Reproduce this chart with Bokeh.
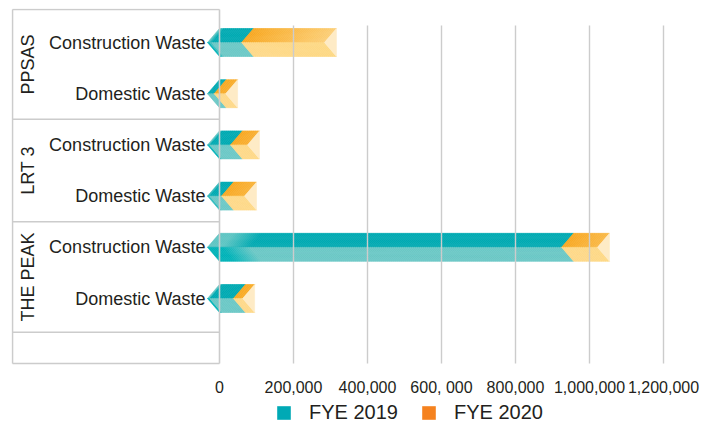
import numpy as np
from bokeh.plotting import figure
from bokeh.models import (Range1d, FixedTicker, Legend, LegendItem,
                          ColumnDataSource)
from bokeh.core.properties import value
from bokeh.embed import file_html
from bokeh.resources import INLINE

# ---------------- data ----------------
groups = ["PPSAS", "LRT 3", "THE PEAK"]
categories = ["Construction Waste", "Domestic Waste"]
fye2019 = [92000, 18000, 62000, 38000, 957000, 70000]
fye2020 = [224000, 31000, 46000, 62000, 97000, 25000]
series_names = ["FYE 2019", "FYE 2020"]
tick_values = [0, 200000, 400000, 600000, 800000, 1000000, 1200000]
tick_labels = ["0", "200,000", "400,000", "600, 000", "800,000", "1,000,000", "1,200,000"]

# ---------------- layout / style ----------------
FONT = "Liberation Sans"
TXT = "#231f20"
GRID = "#cccccc"
PX_X = 74 / 200000.0          # pixels per x unit
ROW = 51.2                    # pixels per row
FRAME_L, FRAME_W = 11, 689
FRAME_T, FRAME_B = 8, 424
AXIS_PX = 364                 # where the value axis sits
ZERO_PX = 219 - FRAME_L       # pixel offset of value 0 within frame
FIRST_ROW_PX = 42

x_start = -ZERO_PX / PX_X
x_end = x_start + FRAME_W / PX_X
y_top = (FRAME_T - FIRST_ROW_PX) / ROW
y_bot = (FRAME_B - FIRST_ROW_PX) / ROW

def px_x(px):   # absolute canvas pixel -> data x
    return (px - 219) / PX_X

def px_y(py):   # absolute canvas pixel -> data y (row units)
    return (py - FIRST_ROW_PX) / ROW

p = figure(width=711, height=424, output_backend="svg", toolbar_location=None,
           x_range=Range1d(x_start, x_end), y_range=Range1d(y_bot, y_top),
           y_axis_location=None, min_border_left=FRAME_L, min_border_right=711 - FRAME_L - FRAME_W,
           min_border_top=FRAME_T, min_border_bottom=0)
p.outline_line_color = None
p.xgrid.visible = False
p.ygrid.visible = False
p.background_fill_color = "white"

n_rows = len(groups) * len(categories)
rows = np.arange(n_rows)
hh = 14 / ROW                 # half bar height
d = 12 / PX_X                 # chevron depth

def lerp(c1, c2, t):
    a = [int(c1[i:i + 2], 16) for i in (1, 3, 5)]
    b = [int(c2[i:i + 2], 16) for i in (1, 3, 5)]
    return "#%02x%02x%02x" % tuple(int(round(a[j] + (b[j] - a[j]) * t)) for j in range(3))

xs, ys, cols = [], [], []
def seg(a, b, k, top_c1, top_c2, bot_c1, bot_c2, tfun):
    K = max(4, int((b - a) * PX_X / 2))
    edges = np.linspace(a, b, K + 1)
    for i in range(K):
        s0, s1 = edges[i], edges[i + 1]
        t = tfun((s0 + s1) / 2 - a, b - a)
        ct = lerp(top_c1, top_c2, t)
        cb = lerp(bot_c1, bot_c2, t)
        xs.append([s0, s1, s1 - d, s0 - d]); ys.append([k - hh, k - hh, k, k]); cols.append(ct)
        xs.append([s0 - d, s1 - d, s1, s0]); ys.append([k, k, k + hh, k + hh]); cols.append(cb)

teal_t = lambda off, length: float(np.clip((off / length - 0.04) / 0.08, 0, 1))
orange_t = lambda off, length: min(1.0, off * PX_X / 90)

for k in rows:
    a = fye2019[k]
    b = a + fye2020[k]
    seg(0, a, k, "#5ec5c3", "#00aab2", "#00b3b9", "#6bc8c6", teal_t)
    seg(a, b, k, "#f8a822", "#fcd27e", "#fed98a", "#fdd883", orange_t)
    xs.append([b, b, b - d]); ys.append([k - hh, k + hh, k]); cols.append("#feebc6")

src = ColumnDataSource(dict(xs=xs, ys=ys, c=cols))
p.patches("xs", "ys", source=src, fill_color="c", line_color="c", line_width=0.6)

# ---------------- category table on the left ----------------
box_left = px_x(12)
box_top = px_y(9)
box_bottom = px_y(363)
group_bounds = [box_top, 1.5, 3.5, len(rows) - 1 + 0.66]
h_y = group_bounds + [box_bottom]
p.segment(x0=[box_left] * len(h_y), x1=[0] * len(h_y), y0=h_y, y1=h_y,
          line_color=GRID, line_width=1.6)
p.segment(x0=[box_left, 0], x1=[box_left, 0], y0=[box_top] * 2, y1=[box_bottom] * 2,
          line_color=GRID, line_width=1.6)

# vertical grid lines
gx = [t for t in tick_values if t > 0]
p.segment(x0=gx, x1=gx, y0=[px_y(25)] * len(gx), y1=[box_bottom] * len(gx),
          line_color=GRID, line_width=1.4)

row_labels = [c for g in groups for c in categories]
p.text(x=[px_x(205)] * n_rows, y=list(rows), text=row_labels,
       text_font=value(FONT), text_font_size="18px", text_color=TXT,
       text_align="right", text_baseline="middle")

gy = [(group_bounds[i] + group_bounds[i + 1]) / 2 for i in range(len(groups))]
p.text(x=[px_x(27)] * len(groups), y=gy, text=groups, angle=np.pi / 2,
       text_font=value(FONT), text_font_size="18px", text_color=TXT,
       text_align="center", text_baseline="middle")

# ---------------- x axis ----------------
ax = p.xaxis[0]
ax.fixed_location = px_y(AXIS_PX)
ax.ticker = FixedTicker(ticks=tick_values)
ax.major_label_overrides = {t: l for t, l in zip(tick_values, tick_labels)}
ax.axis_line_color = None
ax.major_tick_line_color = None
ax.minor_tick_line_color = None
ax.major_label_standoff = 8
ax.major_label_text_font = FONT
ax.major_label_text_font_size = "16px"
ax.major_label_text_color = TXT

# ---------------- legend ----------------
nan_src = ColumnDataSource(dict(l=[np.nan], r=[np.nan], b=[np.nan], t=[np.nan]))
r1 = p.quad(left="l", right="r", bottom="b", top="t", source=nan_src,
            fill_color="#00a9b5", line_color=None)
r2 = p.quad(left="l", right="r", bottom="b", top="t", source=nan_src,
            fill_color="#f5821f", line_color=None)
legend = Legend(items=[LegendItem(label=series_names[0], renderers=[r1]),
                       LegendItem(label=series_names[1], renderers=[r2])],
                orientation="horizontal", location=(264, 0),
                glyph_width=17, glyph_height=17, label_standoff=17, spacing=22,
                padding=0, margin=0, border_line_color=None, background_fill_alpha=0,
                label_text_font=FONT, label_text_font_size="20px", label_text_color=TXT)
p.add_layout(legend, "center")

open("out.html", "w").write(file_html(p, INLINE))
